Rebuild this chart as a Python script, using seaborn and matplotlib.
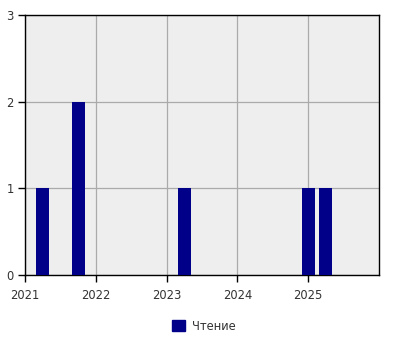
import matplotlib
matplotlib.use("Agg")
import matplotlib.pyplot as plt
import seaborn as sns
import pandas as pd
from matplotlib.patches import Patch

# Data (decimal-year positions of quarter starts)
periods = [2021.25, 2021.75, 2023.25, 2025.0, 2025.25]
counts = [1, 2, 1, 1, 1]
series_name = "Чтение"
year_ticks = [2021, 2022, 2023, 2024, 2025]
y_ticks = [0, 1, 2, 3]

df = pd.DataFrame({"period": periods, "count": counts})

sns.set_style("white")
plt.rcParams['font.family'] = ['DejaVu Sans']

fig = plt.figure(figsize=(4, 3.5), dpi=100)
ax = fig.add_axes([0.0625, 0.214, 0.885, 0.743])
ax.set_facecolor("#eeeeee")

sns.barplot(data=df, x="period", y="count", native_scale=True, width=0.735,
            color="#000088", saturation=1, ax=ax, zorder=3, linewidth=0,
            edgecolor="none")

ax.set_xlim(2021, 2026)
ax.set_ylim(0, 3)
ax.set_xticks(year_ticks)
ax.set_xticklabels([str(y) for y in year_ticks])
ax.set_yticks(y_ticks)
ax.grid(True, color="#aaaaaa", linewidth=0.9, zorder=0)
ax.set_axisbelow(True)
for s in ax.spines.values():
    s.set_visible(True)
    s.set_color("black")
    s.set_linewidth(1)
ax.tick_params(axis="both", length=5, width=1, color="black", labelsize=8.3,
               labelcolor="#333333", direction="out", bottom=True, left=True)
ax.tick_params(axis="x", pad=5)
ax.tick_params(axis="y", pad=3)
ax.set_xlabel("")
ax.set_ylabel("")

handle = Patch(facecolor="#000088", edgecolor="#000088")
fig.legend([handle], [series_name], loc="center", bbox_to_anchor=(0.51, 0.068),
           frameon=False, fontsize=8.3, handlelength=1.1, handleheight=1.1,
           handletextpad=0.6, labelcolor="#333333")

fig.savefig("out.png", dpi=100)
